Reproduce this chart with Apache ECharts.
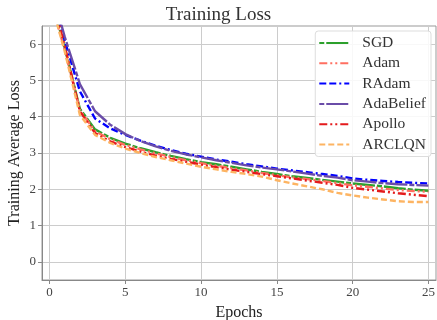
<!DOCTYPE html>
<html>
<head>
<meta charset="utf-8">
<script src="https://cdn.jsdelivr.net/npm/echarts@6/dist/echarts.min.js"></script>
<style>
  html, body { margin: 0; padding: 0; background: #fff; }
  #chart { width: 437px; height: 320px; }
</style>
</head>
<body>
<div id="chart"></div>
<script>
// epochs 0..25
const epochs = [0,1,2,3,4,5,6,7,8,9,10,11,12,13,14,15,16,17,18,19,20,21,22,23,24,25]

const sgd = [7.4,5.9,4.22,3.65,3.42,3.26,3.13,3.02,2.92,2.83,2.75,2.69,2.62,2.55,2.48,2.42,2.36,2.31,2.26,2.21,2.16,2.12,2.08,2.03,1.99,1.96]
const adam = [7.3,5.85,4.18,3.6,3.38,3.22,3.1,2.99,2.89,2.8,2.72,2.65,2.58,2.52,2.45,2.39,2.33,2.28,2.23,2.17,2.11,2.07,2.02,1.98,1.95,1.93]
const radam = [7.6,6.1,4.7,3.95,3.68,3.5,3.34,3.2,3.08,2.98,2.9,2.82,2.76,2.69,2.63,2.57,2.52,2.47,2.42,2.37,2.3,2.26,2.23,2.2,2.18,2.16]
const adabelief = [7.7,6.2,4.9,4.15,3.78,3.52,3.33,3.18,3.06,2.96,2.88,2.8,2.73,2.66,2.6,2.55,2.49,2.43,2.37,2.32,2.25,2.21,2.17,2.14,2.12,2.1]
const apollo = [7.5,5.95,4.15,3.55,3.32,3.16,3.04,2.93,2.84,2.76,2.68,2.61,2.54,2.48,2.42,2.36,2.3,2.24,2.18,2.12,2.04,1.99,1.94,1.89,1.85,1.81]
const arclqn = [7.3,5.8,4.05,3.5,3.28,3.12,3.0,2.89,2.8,2.71,2.62,2.55,2.48,2.42,2.35,2.25,2.16,2.08,2.0,1.9,1.83,1.77,1.72,1.67,1.65,1.65]

const yTicks = [0, 1, 2, 3, 4, 5, 6]
const xTicks = [0, 5, 10, 15, 20, 25]

const font = 'Liberation Serif'

const mk = (name, values, color, dash, width) => ({
  name,
  type: 'line',
  data: epochs.map((e, i) => [e, values[i]]),
  symbol: 'none',
  clip: true,
  lineStyle: {color, width: width || 2.4, type: dash},
  itemStyle: {color},
})

const chart = echarts.init(document.getElementById('chart'), null, {renderer: 'canvas'})

chart.setOption({
  animation: false,
  backgroundColor: '#fff',
  textStyle: {fontFamily: font},
  title: {
    text: 'Training Loss',
    left: 'center',
    top: 1,
    textStyle: {fontFamily: font, fontSize: 19, fontWeight: 'normal', color: '#333'},
  },
  grid: {
    left: 42, right: 1, top: 26, bottom: 40,
    containLabel: false,
    outerBoundsMode: 'none',
    show: true, borderColor: '#999', borderWidth: 1,
  },
  legend: {
    orient: 'vertical',
    right: 6,
    top: 31,
    itemWidth: 30,
    itemHeight: 10,
    itemGap: 4.3,
    padding: [4, 5, 4, 3],
    backgroundColor: 'rgba(255,255,255,0.85)',
    borderColor: '#ddd',
    borderWidth: 1,
    borderRadius: 3,
    itemStyle: {opacity: 0},
    textStyle: {fontFamily: font, fontSize: 15.5, color: '#333', padding: [0, 0, 0, 8]},
  },
  xAxis: {
    type: 'value',
    min: -0.5,
    max: 25.5,
    name: 'Epochs',
    nameLocation: 'middle',
    nameGap: 25,
    nameMoveOverlap: false,
    nameTextStyle: {fontFamily: font, fontSize: 16, color: '#222'},
    axisLine: {show: true, onZero: false, lineStyle: {color: '#888'}},
    axisTick: {show: true, length: 4, lineStyle: {color: '#888'},
      customValues: xTicks},
    axisLabel: {fontFamily: font, fontSize: 13, color: '#444', margin: 6,
      customValues: xTicks},
    splitLine: {show: true, lineStyle: {color: '#ccc', width: 1}},
  },
  yAxis: {
    type: 'value',
    min: -0.5,
    max: 6.5,
    name: 'Training Average Loss',
    nameLocation: 'middle',
    nameGap: 19,
    nameMoveOverlap: false,
    nameTextStyle: {fontFamily: font, fontSize: 16, color: '#222'},
    axisLine: {show: true, onZero: false, lineStyle: {color: '#888'}},
    axisTick: {show: true, length: 4, lineStyle: {color: '#888'},
      customValues: yTicks},
    axisLabel: {fontFamily: font, fontSize: 13, color: '#444', margin: 6,
      customValues: yTicks},
    splitLine: {show: true, lineStyle: {color: '#ccc', width: 1}},
  },
  series: [
    mk('SGD', sgd, '#2ca02c', [5, 2, 22, 2]),
    mk('Adam', adam, '#ff6f61', [8, 3, 2, 3, 2, 3]),
    mk('RAdam', radam, '#0000ff', [7, 3, 7, 3, 2, 3]),
    mk('AdaBelief', adabelief, '#6a4ca8', [5, 2, 22, 2]),
    mk('Apollo', apollo, '#e41a1c', [8, 3, 2, 3, 2, 3]),
    mk('ARCLQN', arclqn, '#fdb462', [6, 3]),
  ],
})
</script>
</body>
</html>
